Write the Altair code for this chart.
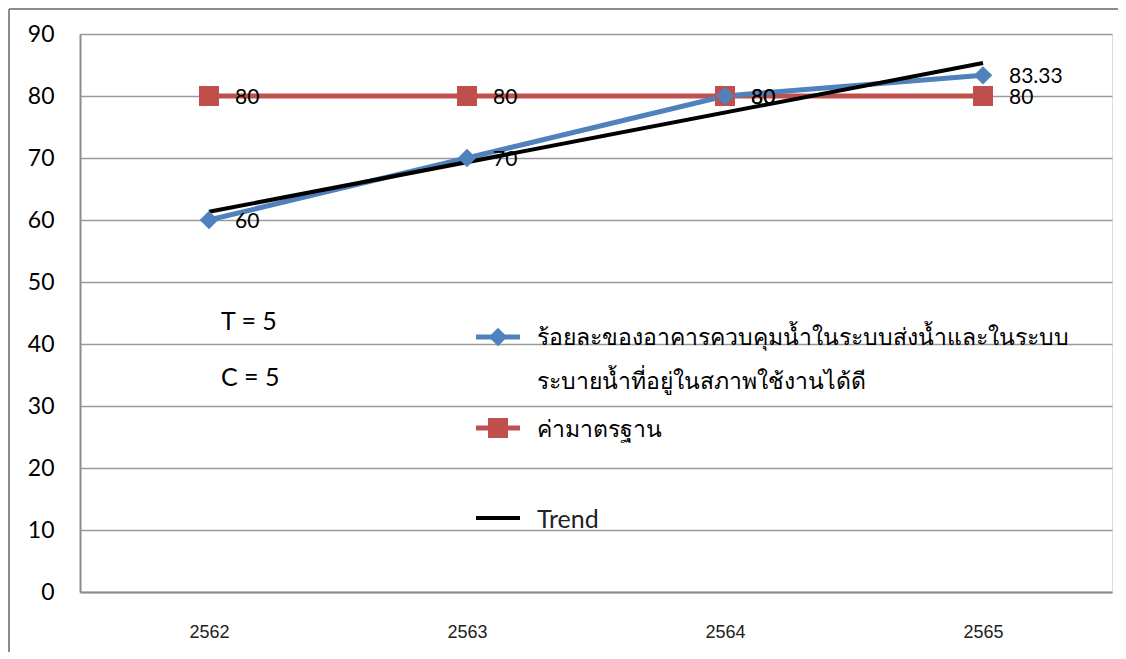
import altair as alt
import pandas as pd

years = ["2562", "2563", "2564", "2565"]
pct_values = [60, 70, 80, 83.33]
pct_labels = ["60", "70", "80", "83.33"]
std_values = [80, 80, 80, 80]
std_labels = ["80", "80", "80", "80"]
trend_years = ["2562", "2565"]
trend_values = [61.33, 85.33]

series_names = [
    "ร้อยละของอาคารควบคุมน้ำในระบบส่งน้ำและในระบบ\nระบายน้ำที่อยู่ในสภาพใช้งานได้ดี",
    "ค่ามาตรฐาน",
    "Trend",
]
notes = ["T = 5", "C = 5"]

BLUE = "#4F81BD"
RED = "#C0504D"
BLACK = "#000000"
FONT = "Lato"

pct = pd.DataFrame({"year": years, "value": pct_values, "label": pct_labels})
std = pd.DataFrame({"year": years, "value": std_values, "label": std_labels})
trend = pd.DataFrame({"year": trend_years, "value": trend_values})

xs = alt.X("year:O", scale=alt.Scale(type="point", padding=0.5, domain=years),
           axis=alt.Axis(title=None, labelAngle=0, labelFont="Liberation Sans",
                         labelFontSize=18, labelColor="#222222", labelPadding=31,
                         ticks=False, domain=True, domainColor="#8c8c8c", domainWidth=2,
                         grid=False))
ys = alt.Y("value:Q", scale=alt.Scale(domain=[0, 90], nice=False),
           axis=alt.Axis(title=None, values=list(range(0, 100, 10)), labelFont=FONT,
                         labelFontSize=23, labelColor="#000000", labelPadding=26,
                         ticks=False, domain=True, domainColor="#8c8c8c", domainWidth=2,
                         grid=True, gridColor="#9a9a9a", gridWidth=1.6))

base_pct = alt.Chart(pct)
base_std = alt.Chart(std)

std_line = base_std.mark_line(color=RED, strokeWidth=5).encode(x=xs, y=ys)
std_pts = base_std.mark_point(shape="square", filled=True, size=400, color=RED, opacity=1).encode(x="year:O", y="value:Q")
std_txt = base_std.mark_text(align="left", baseline="middle", dx=26, dy=2, fontSize=21, font=FONT, color="#000").encode(
    x="year:O", y="value:Q", text="label:N")

pct_line = base_pct.mark_line(color=BLUE, strokeWidth=5).encode(x="year:O", y="value:Q")
pct_pts = base_pct.mark_point(shape="diamond", filled=True, size=340, color=BLUE, opacity=1).encode(x="year:O", y="value:Q")
pct_txt = base_pct.mark_text(align="left", baseline="middle", dx=26, dy=2, fontSize=21, font=FONT, color="#000").encode(
    x="year:O", y="value:Q", text="label:N")

trend_line = alt.Chart(trend).mark_line(color=BLACK, strokeWidth=4).encode(x="year:O", y="value:Q")

one = alt.Chart(pd.DataFrame({"k": [0]}))
name_lines = series_names[0].split("\n")

leg_layers = []
# entry 1
leg_layers.append(one.mark_rule(color=BLUE, strokeWidth=5).encode(x=alt.value(396), x2=alt.value(440), y=alt.value(303)))
leg_layers.append(one.mark_point(shape="diamond", filled=True, size=340, color=BLUE, opacity=1).encode(x=alt.value(418), y=alt.value(303)))
leg_layers.append(alt.Chart(pd.DataFrame({"t": [name_lines[0]]})).mark_text(
    align="left", baseline="middle", fontSize=23, font=FONT, color="#000").encode(
    x=alt.value(457), y=alt.value(304), text="t:N"))
leg_layers.append(alt.Chart(pd.DataFrame({"t": [name_lines[1]]})).mark_text(
    align="left", baseline="middle", fontSize=23, font=FONT, color="#000").encode(
    x=alt.value(457), y=alt.value(348), text="t:N"))
# entry 2
leg_layers.append(one.mark_rule(color=RED, strokeWidth=5).encode(x=alt.value(396), x2=alt.value(440), y=alt.value(394)))
leg_layers.append(one.mark_point(shape="square", filled=True, size=400, color=RED, opacity=1).encode(x=alt.value(418), y=alt.value(394)))
leg_layers.append(alt.Chart(pd.DataFrame({"t": [series_names[1]]})).mark_text(
    align="left", baseline="middle", fontSize=23, font=FONT, color="#000").encode(
    x=alt.value(457), y=alt.value(396), text="t:N"))
# entry 3
leg_layers.append(one.mark_rule(color=BLACK, strokeWidth=4).encode(x=alt.value(396), x2=alt.value(440), y=alt.value(484)))
leg_layers.append(alt.Chart(pd.DataFrame({"t": [series_names[2]]})).mark_text(
    align="left", baseline="middle", fontSize=25, font=FONT, color="#222").encode(
    x=alt.value(457), y=alt.value(486), text="t:N"))

# notes
leg_layers.append(alt.Chart(pd.DataFrame({"t": [notes[0]]})).mark_text(
    align="left", baseline="middle", fontSize=25, font=FONT, color="#000").encode(
    x=alt.value(141), y=alt.value(288), text="t:N"))
leg_layers.append(alt.Chart(pd.DataFrame({"t": [notes[1]]})).mark_text(
    align="left", baseline="middle", fontSize=25, font=FONT, color="#000").encode(
    x=alt.value(141), y=alt.value(344), text="t:N"))

# outer border
leg_layers.append(one.mark_rule(color="#8c8c8c", strokeWidth=2).encode(x=alt.value(-71), y=alt.value(-25), y2=alt.value(640)))
leg_layers.append(one.mark_rule(color="#8c8c8c", strokeWidth=2).encode(x=alt.value(-71), x2=alt.value(1100), y=alt.value(-25)))

chart = alt.layer(
    std_line, pct_line, trend_line, std_pts, pct_pts, std_txt, pct_txt, *leg_layers
).properties(
    width=1032, height=558,
    autosize=alt.AutoSizeParams(type="none"),
    padding={"left": 72, "top": 26, "right": 6, "bottom": 60},
).configure_view(stroke=None).configure(background="white")

chart.save("out.html", embed_options={"renderer": "svg", "actions": False})
